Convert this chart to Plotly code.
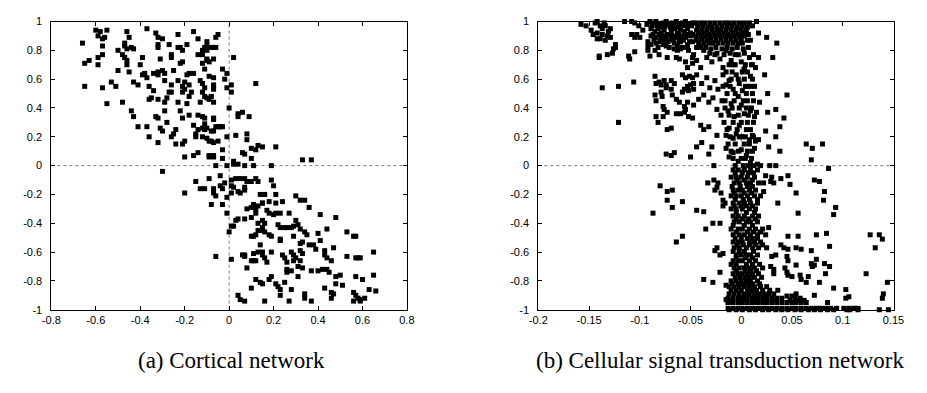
import plotly.graph_objects as go

# ---------------- (a) Cortical network: points above y = 0 ----------------
cortical_upper = [
    (-0.66, 0.85), (-0.65, 0.71), (-0.63, 0.73), (-0.65, 0.55), (-0.60, 0.94), (-0.58, 0.93),
    (-0.55, 0.94), (-0.59, 0.90), (-0.57, 0.88), (-0.56, 0.89), (-0.57, 0.83), (-0.57, 0.77),
    (-0.59, 0.75), (-0.59, 0.70), (-0.57, 0.54), (-0.55, 0.43), (-0.53, 0.58), (-0.51, 0.55),
    (-0.50, 0.80), (-0.48, 0.77), (-0.47, 0.83), (-0.47, 0.85), (-0.46, 0.81), (-0.48, 0.44),
    (-0.46, 0.93), (-0.45, 0.89), (-0.47, 0.75), (-0.46, 0.70), (-0.46, 0.73), (-0.50, 0.66),
    (-0.45, 0.65), (-0.44, 0.38), (-0.43, 0.34), (-0.41, 0.27), (-0.43, 0.58), (-0.41, 0.56),
    (-0.44, 0.82), (-0.43, 0.81), (-0.39, 0.75), (-0.40, 0.70), (-0.38, 0.64), (-0.37, 0.61),
    (-0.39, 0.63), (-0.37, 0.95), (-0.33, 0.92), (-0.32, 0.89), (-0.30, 0.88), (-0.27, 0.84),
    (-0.26, 0.77), (-0.26, 0.75), (-0.36, 0.55), (-0.36, 0.46), (-0.35, 0.47), (-0.32, 0.46),
    (-0.37, 0.27), (-0.36, 0.20), (-0.32, 0.84), (-0.32, 0.82), (-0.31, 0.74), (-0.34, 0.64),
    (-0.32, 0.63), (-0.32, 0.65), (-0.30, 0.66), (-0.29, 0.64), (-0.29, 0.59), (-0.34, 0.52),
    (-0.33, 0.34), (-0.32, 0.33), (-0.31, 0.26), (-0.30, 0.24), (-0.32, 0.16), (-0.28, 0.47),
    (-0.27, 0.51), (-0.26, 0.51), (-0.26, 0.56), (-0.29, 0.44), (-0.29, 0.38), (-0.28, 0.30),
    (-0.26, 0.20), (-0.25, 0.22), (-0.24, 0.25), (-0.23, 0.91), (-0.23, 0.82), (-0.22, 0.82),
    (-0.21, 0.80), (-0.19, 0.84), (-0.22, 0.71), (-0.21, 0.72), (-0.25, 0.66), (-0.23, 0.59),
    (-0.21, 0.55), (-0.20, 0.53), (-0.21, 0.51), (-0.18, 0.56), (-0.17, 0.51), (-0.23, 0.44),
    (-0.22, 0.38), (-0.21, 0.33), (-0.20, 0.58), (-0.19, 0.63), (-0.18, 0.64), (-0.16, 0.64),
    (-0.24, 0.15), (-0.21, 0.15), (-0.20, 0.17), (-0.20, 0.06), (-0.16, 0.07), (-0.14, 0.09),
    (-0.18, 0.48), (-0.19, 0.43), (-0.18, 0.35), (-0.16, 0.28), (-0.15, 0.22), (-0.15, 0.20),
    (-0.16, 0.93), (-0.14, 0.88), (-0.12, 0.80), (-0.11, 0.82), (-0.10, 0.86), (-0.10, 0.83),
    (-0.14, 0.77), (-0.12, 0.77), (-0.12, 0.71), (-0.11, 0.67), (-0.10, 0.73), (-0.13, 0.59),
    (-0.12, 0.57), (-0.11, 0.54), (-0.09, 0.62), (-0.07, 0.61), (-0.07, 0.55), (-0.13, 0.44),
    (-0.12, 0.51), (-0.11, 0.48), (-0.10, 0.47), (-0.14, 0.35), (-0.12, 0.34), (-0.11, 0.33),
    (-0.11, 0.29), (-0.14, 0.25), (-0.12, 0.26), (-0.11, 0.25), (-0.10, 0.26), (-0.08, 0.24),
    (-0.12, 0.20), (-0.10, 0.19), (-0.09, 0.17), (-0.07, 0.16), (-0.05, 0.17), (-0.09, 0.07),
    (-0.07, 0.07), (-0.08, 0.48), (-0.07, 0.44), (-0.07, 0.33), (-0.05, 0.27), (-0.08, 0.82),
    (-0.06, 0.89), (-0.05, 0.91), (-0.07, 0.74), (-0.06, 0.00), (-0.10, 0.80), (-0.10, 0.74),
    (-0.09, 0.72), (-0.07, 0.82), (-0.06, 0.82), (-0.07, 0.56), (-0.07, 0.53), (-0.09, 0.46),
    (-0.07, 0.32), (-0.06, 0.27), (-0.07, 0.24), (-0.08, 0.17), (-0.09, 0.06), (-0.07, 0.06),
]
cortical_upper_right = [
    (0.02, 0.75), (-0.03, 0.67), (-0.01, 0.64), (-0.02, 0.60), (0.01, 0.56), (0.12, 0.57),
    (-0.01, 0.54), (0.01, 0.51), (0.00, 0.40), (0.04, 0.36), (0.04, 0.34), (0.06, 0.37),
    (0.09, 0.34), (-0.04, 0.27), (0.03, 0.21), (0.08, 0.22), (0.08, 0.18), (-0.01, 0.20),
    (-0.03, 0.11), (0.10, 0.12), (0.12, 0.11), (0.13, 0.14), (0.15, 0.13), (0.21, 0.13),
    (0.06, 0.09), (0.07, 0.08), (-0.03, 0.05), (0.10, 0.05), (0.33, 0.04), (0.37, 0.04),
    (0.02, 0.03), (0.02, 0.01), (0.04, 0.01), (0.07, 0.00), (0.11, 0.00), (0.19, 0.00),
    (-0.01, 0.00), (-0.04, 0.27), (-0.03, 0.27),
]

# ---------------- (a) Cortical network: points below y = 0 ----------------
cortical_lower_left = [
    (-0.30, -0.04), (-0.20, -0.19), (-0.15, -0.11), (-0.13, -0.16), (-0.11, -0.16), (-0.09, -0.09),
    (-0.08, -0.27), (-0.07, -0.19), (-0.07, -0.16), (-0.06, -0.21), (-0.06, -0.63), (-0.04, -0.07),
    (-0.04, -0.14), (-0.03, -0.16), (-0.02, -0.12), (-0.03, -0.27), (-0.01, -0.22), (-0.01, -0.33),
    (0.00, -0.46), (0.01, -0.42), (0.01, -0.65), (0.01, -0.10), (0.01, -0.14), (0.01, -0.19),
]
cortical_lower_right = [
    (0.03, -0.09), (0.05, -0.09), (0.07, -0.09), (0.08, -0.11), (0.10, -0.11), (0.12, -0.09),
    (0.13, -0.11), (0.02, -0.15), (0.04, -0.18), (0.05, -0.19), (0.07, -0.17), (0.07, -0.15),
    (0.19, -0.10), (0.20, -0.14), (0.14, -0.20), (0.16, -0.20), (0.15, -0.26), (0.18, -0.25),
    (0.21, -0.20), (0.21, -0.26), (0.24, -0.25), (0.15, -0.26), (0.30, -0.21), (0.32, -0.24),
    (0.34, -0.24), (0.36, -0.29), (0.08, -0.30), (0.10, -0.29), (0.11, -0.27), (0.12, -0.30),
    (0.12, -0.33), (0.13, -0.28), (0.17, -0.31), (0.18, -0.33), (0.20, -0.34), (0.21, -0.33),
    (0.23, -0.33), (0.27, -0.33), (0.41, -0.34), (0.48, -0.36), (0.03, -0.38), (0.02, -0.42),
    (0.04, -0.37), (0.07, -0.37), (0.10, -0.36), (0.13, -0.40), (0.15, -0.43), (0.16, -0.40),
    (0.15, -0.38), (0.22, -0.41), (0.23, -0.43), (0.25, -0.43), (0.26, -0.43), (0.28, -0.43),
    (0.29, -0.42), (0.31, -0.41), (0.30, -0.38), (0.32, -0.44), (0.10, -0.49), (0.11, -0.49),
    (0.12, -0.48), (0.13, -0.45), (0.15, -0.45), (0.16, -0.46), (0.18, -0.48), (0.19, -0.49),
    (0.23, -0.51), (0.23, -0.52), (0.29, -0.49), (0.34, -0.46), (0.35, -0.48), (0.40, -0.47),
    (0.44, -0.44), (0.53, -0.46), (0.56, -0.49), (0.57, -0.49), (0.32, -0.54), (0.33, -0.53),
    (0.36, -0.55), (0.38, -0.55), (0.39, -0.58), (0.41, -0.52), (0.14, -0.55), (0.15, -0.60),
    (0.15, -0.62), (0.06, -0.62), (0.07, -0.62), (0.07, -0.63), (0.11, -0.61), (0.13, -0.60),
    (0.19, -0.60), (0.10, -0.66), (0.11, -0.66), (0.12, -0.66), (0.16, -0.64), (0.17, -0.67),
    (0.08, -0.71), (0.24, -0.62), (0.25, -0.64), (0.26, -0.67), (0.28, -0.60), (0.29, -0.62),
    (0.29, -0.66), (0.30, -0.64), (0.32, -0.59), (0.33, -0.61), (0.32, -0.66), (0.31, -0.70),
    (0.33, -0.71), (0.26, -0.72), (0.26, -0.74), (0.28, -0.73), (0.37, -0.73), (0.40, -0.73),
    (0.42, -0.72), (0.44, -0.72), (0.45, -0.74), (0.43, -0.59), (0.43, -0.62), (0.44, -0.64),
    (0.46, -0.66), (0.47, -0.57), (0.53, -0.63), (0.57, -0.64), (0.58, -0.64), (0.59, -0.64),
    (0.65, -0.60), (0.19, -0.77), (0.18, -0.79), (0.12, -0.79), (0.14, -0.81), (0.15, -0.82),
    (0.21, -0.82), (0.22, -0.84), (0.23, -0.86), (0.23, -0.90), (0.25, -0.81), (0.31, -0.77),
    (0.34, -0.89), (0.34, -0.92), (0.10, -0.85), (0.04, -0.90), (0.05, -0.93), (0.07, -0.94),
    (0.16, -0.94), (0.27, -0.94), (0.28, -0.86), (0.37, -0.94), (0.43, -0.85), (0.46, -0.88),
    (0.46, -0.92), (0.47, -0.89), (0.48, -0.82), (0.48, -0.77), (0.50, -0.76), (0.51, -0.83),
    (0.57, -0.77), (0.60, -0.79), (0.65, -0.76), (0.56, -0.88), (0.57, -0.90), (0.58, -0.92),
    (0.59, -0.93), (0.59, -0.94), (0.61, -0.92), (0.56, -0.94), (0.63, -0.86), (0.66, -0.87),
]

# ---------------- (b) Cellular signal transduction network ----------------
signal_top_left = [
    (-0.158, 0.98), (-0.153, 0.97), (-0.148, 0.94), (-0.146, 0.91), (-0.144, 0.99), (-0.142, 1.00),
    (-0.139, 0.97), (-0.137, 0.95), (-0.135, 0.99), (-0.134, 0.97), (-0.131, 0.93), (-0.129, 0.95),
    (-0.132, 0.90), (-0.142, 0.88), (-0.139, 0.88), (-0.134, 0.87), (-0.129, 0.89), (-0.142, 0.92),
    (-0.137, 0.91), (-0.124, 0.84), (-0.126, 0.81), (-0.140, 0.76), (-0.140, 0.75), (-0.132, 0.77),
    (-0.127, 0.78), (-0.124, 0.82), (-0.115, 1.00), (-0.108, 1.00), (-0.105, 0.99), (-0.101, 0.97),
    (-0.103, 0.91), (-0.100, 0.89), (-0.097, 0.94), (-0.093, 0.98), (-0.108, 0.91), (-0.105, 0.89),
    (-0.111, 0.76), (-0.110, 0.74), (-0.105, 0.79), (-0.092, 0.80), (-0.090, 0.76),
]
signal_top_band = [
    (-0.090, 1.00), (-0.087, 0.99), (-0.084, 1.00), (-0.081, 0.98), (-0.077, 0.99), (-0.074, 1.00),
    (-0.071, 0.98), (-0.068, 0.99), (-0.064, 1.00), (-0.061, 0.98), (-0.058, 0.99), (-0.055, 1.00),
    (-0.052, 0.98), (-0.048, 0.99), (-0.089, 0.95), (-0.085, 0.93), (-0.082, 0.95), (-0.079, 0.92),
    (-0.076, 0.94), (-0.073, 0.91), (-0.069, 0.93), (-0.066, 0.95), (-0.063, 0.92), (-0.060, 0.94),
    (-0.056, 0.93), (-0.053, 0.95), (-0.050, 0.92), (-0.089, 0.90), (-0.084, 0.89), (-0.079, 0.88),
    (-0.074, 0.89), (-0.069, 0.88), (-0.064, 0.89), (-0.060, 0.88), (-0.055, 0.89), (-0.050, 0.90),
    (-0.092, 0.86), (-0.092, 0.83), (-0.089, 0.84), (-0.084, 0.85), (-0.082, 0.82), (-0.085, 0.80),
    (-0.081, 0.77), (-0.077, 0.84), (-0.074, 0.83), (-0.071, 0.82), (-0.066, 0.85), (-0.063, 0.83),
    (-0.060, 0.86), (-0.058, 0.82), (-0.053, 0.84), (-0.048, 0.86), (-0.052, 0.80), (-0.066, 0.81),
    (-0.063, 0.80), (-0.060, 0.81), (-0.053, 0.82), (-0.073, 0.75), (-0.064, 0.75), (-0.061, 0.74),
    (-0.048, 0.75), (-0.044, 0.82),
    (-0.088, 0.97), (-0.083, 0.97), (-0.079, 0.96), (-0.075, 0.97), (-0.070, 0.96), (-0.066, 0.97),
    (-0.062, 0.96), (-0.057, 0.97), (-0.053, 0.96), (-0.049, 0.97),
    (-0.087, 0.91), (-0.081, 0.91), (-0.077, 0.90), (-0.071, 0.91), (-0.067, 0.90), (-0.062, 0.91),
    (-0.058, 0.90), (-0.054, 0.91), (-0.048, 0.91),
    (-0.086, 0.87), (-0.080, 0.86), (-0.076, 0.87), (-0.072, 0.86), (-0.067, 0.87), (-0.061, 0.86),
    (-0.057, 0.87), (-0.051, 0.86),
    (-0.045, 0.99), (-0.040, 0.99), (-0.036, 0.99), (-0.031, 0.99), (-0.026, 0.99), (-0.021, 0.99),
    (-0.016, 0.99), (-0.012, 0.99), (-0.007, 0.99), (-0.002, 0.99), (0.003, 0.99), (0.008, 0.99),
    (-0.044, 0.94), (-0.039, 0.94), (-0.034, 0.94), (-0.029, 0.94), (-0.024, 0.94), (-0.020, 0.94),
    (-0.015, 0.94), (-0.010, 0.94), (-0.005, 0.94), (0.000, 0.94), (0.005, 0.94),
    (-0.045, 0.90), (-0.040, 0.90), (-0.036, 0.90), (-0.031, 0.90), (-0.026, 0.90), (-0.021, 0.90),
    (-0.016, 0.90), (-0.012, 0.90), (-0.007, 0.90), (-0.002, 0.90), (0.003, 0.90),
    (-0.042, 0.85), (-0.037, 0.85), (-0.032, 0.85), (-0.028, 0.85), (-0.023, 0.85), (-0.018, 0.85),
    (-0.013, 0.85), (-0.008, 0.85), (-0.003, 0.85), (0.001, 0.85),
    (-0.043, 0.97), (-0.038, 0.97), (-0.033, 0.96), (-0.029, 0.97), (-0.024, 0.96), (-0.019, 0.97),
    (-0.014, 0.96), (-0.009, 0.97), (-0.004, 0.96), (0.001, 0.97), (0.006, 0.96), (0.011, 0.97),
    (-0.042, 0.92), (-0.037, 0.92), (-0.032, 0.91), (-0.027, 0.92), (-0.022, 0.91), (-0.017, 0.92),
    (-0.013, 0.91), (-0.008, 0.92), (-0.003, 0.91), (0.002, 0.92), (0.007, 0.91),
    (-0.044, 0.87), (-0.039, 0.88), (-0.034, 0.87), (-0.030, 0.88), (-0.025, 0.87), (-0.020, 0.88),
    (-0.015, 0.87), (-0.010, 0.88), (-0.005, 0.87), (0.000, 0.88), (0.006, 0.87),
    (-0.040, 0.82), (-0.035, 0.82), (-0.030, 0.81), (-0.025, 0.82), (-0.019, 0.81), (-0.014, 0.82),
    (-0.009, 0.81), (-0.004, 0.82), (0.002, 0.81), (0.007, 0.82),
    (-0.031, 0.78), (-0.024, 0.78), (-0.017, 0.77), (-0.011, 0.78), (-0.006, 0.77), (0.003, 0.78),
    (0.012, 0.77),
    (0.015, 1.00), (0.017, 0.92), (0.025, 0.89), (0.035, 0.85), (0.009, 0.87),
]
signal_mid_upper = [
    (-0.137, 0.54), (-0.121, 0.55), (-0.106, 0.58), (-0.121, 0.30),
    (-0.085, 0.62), (-0.084, 0.57), (-0.081, 0.58), (-0.079, 0.56), (-0.076, 0.59), (-0.074, 0.56),
    (-0.069, 0.59), (-0.066, 0.57), (-0.058, 0.63), (-0.055, 0.61), (-0.051, 0.62), (-0.048, 0.61),
    (-0.053, 0.55), (-0.050, 0.56), (-0.047, 0.57), (-0.085, 0.49), (-0.084, 0.45), (-0.079, 0.51),
    (-0.078, 0.48), (-0.074, 0.54), (-0.069, 0.53), (-0.068, 0.49), (-0.064, 0.46), (-0.061, 0.44),
    (-0.058, 0.51), (-0.056, 0.53), (-0.052, 0.52), (-0.047, 0.53), (-0.055, 0.72), (-0.053, 0.68),
    (-0.048, 0.71), (-0.084, 0.34), (-0.077, 0.34), (-0.076, 0.39), (-0.073, 0.37), (-0.073, 0.25),
    (-0.069, 0.26), (-0.077, 0.41), (-0.064, 0.36), (-0.060, 0.36), (-0.056, 0.37), (-0.052, 0.34),
    (-0.048, 0.33), (-0.047, 0.42), (-0.053, 0.44), (-0.055, 0.39), (-0.056, 0.41), (-0.082, 0.30),
    (-0.074, 0.08), (-0.069, 0.07), (-0.066, 0.09), (-0.050, 0.06),
    (-0.047, 0.77), (-0.044, 0.73), (-0.040, 0.68), (-0.037, 0.80), (-0.034, 0.75), (-0.029, 0.72),
    (-0.026, 0.77), (-0.021, 0.74), (-0.018, 0.68), (-0.015, 0.80), (-0.010, 0.73), (-0.008, 0.70),
    (-0.003, 0.77), (0.000, 0.72), (0.003, 0.67), (0.008, 0.75), (0.011, 0.70), (0.014, 0.68),
    (0.017, 0.75), (0.031, 0.75), (0.023, 0.63),
    (-0.044, 0.63), (-0.039, 0.57), (-0.034, 0.61), (-0.031, 0.54), (-0.026, 0.59), (-0.023, 0.53),
    (-0.018, 0.63), (-0.015, 0.56), (-0.012, 0.59), (-0.008, 0.53), (-0.005, 0.63), (-0.002, 0.57),
    (0.001, 0.52), (0.006, 0.55), (0.009, 0.62), (0.013, 0.55), (0.026, 0.50), (0.045, 0.49),
    (-0.042, 0.46), (-0.037, 0.49), (-0.032, 0.44), (-0.028, 0.47), (-0.024, 0.39), (-0.020, 0.35),
    (-0.016, 0.45), (-0.013, 0.38), (-0.010, 0.43), (-0.007, 0.34), (-0.003, 0.48), (0.000, 0.42),
    (0.003, 0.36), (0.006, 0.45), (0.009, 0.38), (0.013, 0.34), (0.018, 0.44), (0.026, 0.37),
    (0.034, 0.39), (0.042, 0.33), (0.015, 0.37),
    (-0.040, 0.28), (-0.037, 0.25), (-0.032, 0.27), (-0.024, 0.21), (-0.015, 0.21), (-0.012, 0.26),
    (-0.008, 0.19), (-0.005, 0.22), (-0.002, 0.28), (0.001, 0.20), (0.005, 0.25), (0.008, 0.18),
    (0.011, 0.21), (0.014, 0.17), (0.017, 0.18), (0.024, 0.24), (0.034, 0.20), (0.038, 0.27),
    (-0.044, 0.13), (-0.039, 0.16), (-0.032, 0.08), (-0.029, 0.13), (-0.015, 0.12), (-0.012, 0.06),
    (-0.008, 0.09), (-0.003, 0.03), (0.000, 0.11), (0.005, 0.07), (0.009, 0.02), (0.013, 0.12),
    (0.016, 0.01), (0.019, 0.00), (0.027, 0.13), (0.038, 0.10), (0.028, 0.00), (0.034, 0.00),
    (0.064, 0.15), (0.070, 0.12), (0.080, 0.15), (0.069, 0.04), (-0.027, 0.00),
]
signal_column_upper = [
    (-0.012, 0.70), (-0.006, 0.70), (0.004, 0.70), (0.010, 0.70),
    (-0.015, 0.65), (-0.009, 0.65), (0.001, 0.65), (0.006, 0.65),
    (-0.010, 0.60), (-0.003, 0.60), (0.003, 0.60), (0.011, 0.60),
    (-0.018, 0.55), (-0.011, 0.55), (0.004, 0.55), (0.009, 0.55),
    (-0.014, 0.50), (-0.006, 0.50), (0.005, 0.50), (0.011, 0.50),
    (-0.019, 0.45), (-0.007, 0.45), (0.002, 0.45), (0.012, 0.45),
    (-0.016, 0.40), (-0.009, 0.40), (-0.002, 0.40), (0.005, 0.40), (0.010, 0.40),
    (-0.012, 0.35), (-0.003, 0.35), (0.007, 0.35),
    (-0.017, 0.30), (-0.008, 0.30), (0.000, 0.30), (0.006, 0.30), (0.012, 0.30),
    (-0.014, 0.25), (-0.004, 0.25), (0.009, 0.25),
    (-0.011, 0.20), (-0.002, 0.20), (0.004, 0.20), (0.012, 0.20),
    (-0.013, 0.15), (-0.006, 0.15), (0.003, 0.15), (0.008, 0.15),
    (-0.010, 0.10), (-0.003, 0.10), (0.006, 0.10), (0.011, 0.10),
    (-0.008, 0.05), (0.000, 0.05), (0.004, 0.05), (0.010, 0.05),
    (-0.006, 0.00), (0.002, 0.00), (0.007, 0.00), (0.012, 0.00),
]
signal_mid_lower = [
    (-0.080, -0.14), (-0.073, -0.18), (-0.068, -0.17), (-0.073, -0.24), (-0.068, -0.29), (-0.058, -0.25),
    (-0.087, -0.33), (-0.044, -0.31), (-0.064, -0.53), (-0.058, -0.49),
    (-0.037, -0.32), (-0.035, -0.44), (-0.033, -0.12), (-0.027, -0.10), (-0.024, -0.15), (-0.026, -0.17),
    (-0.023, -0.12), (-0.020, -0.19), (-0.018, -0.24), (-0.016, -0.26), (-0.018, -0.28), (-0.028, -0.40),
    (-0.021, -0.40), (-0.026, -0.59), (-0.024, -0.57), (-0.021, -0.62), (-0.018, -0.61), (-0.021, -0.74),
    (-0.037, -0.79), (-0.028, -0.81), (-0.015, -0.83), (-0.015, -0.93), (-0.013, -0.95),
    (0.086, -0.02), (0.072, -0.10), (0.077, -0.11), (0.082, -0.18), (0.081, -0.24), (0.093, -0.29),
    (0.091, -0.34), (0.056, -0.33), (0.054, -0.19), (0.046, -0.07), (0.048, -0.13), (0.039, -0.09),
    (0.030, -0.08), (0.032, -0.12), (0.029, -0.11), (0.024, -0.07), (0.022, -0.12), (0.022, -0.18),
    (0.036, -0.26), (0.027, -0.43), (0.046, -0.49), (0.056, -0.49), (0.074, -0.48), (0.084, -0.47),
    (0.087, -0.56), (0.127, -0.48), (0.136, -0.48), (0.139, -0.51), (0.132, -0.57), (0.039, -0.55),
    (0.042, -0.57), (0.046, -0.58), (0.054, -0.57), (0.059, -0.58), (0.069, -0.59), (0.074, -0.65),
    (0.030, -0.63), (0.034, -0.62), (0.045, -0.63), (0.046, -0.66), (0.054, -0.69), (0.069, -0.68),
    (0.070, -0.70), (0.072, -0.69), (0.082, -0.68), (0.087, -0.70), (0.083, -0.75), (0.029, -0.70),
    (0.032, -0.72), (0.032, -0.75), (0.043, -0.71), (0.045, -0.74), (0.046, -0.76), (0.050, -0.77),
    (0.058, -0.76), (0.059, -0.79), (0.064, -0.81), (0.066, -0.77), (0.077, -0.81), (0.091, -0.85),
    (0.123, -0.75), (0.144, -0.81), (0.103, -0.86), (0.106, -0.91), (0.103, -0.92), (0.072, -0.90),
    (0.140, -0.89), (0.139, -0.92),
]
signal_column = [
    (-0.008, -0.03), (-0.003, -0.03), (0.003, -0.03), (0.009, -0.03), (0.016, -0.03),
    (-0.006, -0.05), (0.001, -0.05), (0.007, -0.05), (0.012, -0.05),
    (-0.010, -0.08), (-0.005, -0.08), (0.000, -0.08), (0.006, -0.08), (0.013, -0.08),
    (-0.004, -0.10), (0.003, -0.10), (0.011, -0.10),
    (-0.007, -0.12), (-0.002, -0.12), (0.005, -0.12), (0.009, -0.12), (0.017, -0.12),
    (-0.009, -0.145), (-0.001, -0.145), (0.006, -0.145), (0.011, -0.145),
    (-0.008, -0.17), (-0.003, -0.17), (0.001, -0.17), (0.008, -0.17), (0.014, -0.17),
    (-0.007, -0.19), (0.003, -0.19), (0.010, -0.19),
    (-0.010, -0.21), (-0.005, -0.21), (0.000, -0.21), (0.006, -0.21), (0.013, -0.21), (0.019, -0.21),
    (-0.006, -0.235), (0.002, -0.235), (0.008, -0.235), (0.016, -0.235),
    (-0.008, -0.26), (-0.002, -0.26), (0.003, -0.26), (0.009, -0.26), (0.016, -0.26),
    (-0.007, -0.28), (0.000, -0.28), (0.005, -0.28), (0.011, -0.28),
    (-0.010, -0.30), (-0.005, -0.30), (0.001, -0.30), (0.008, -0.30), (0.014, -0.30),
    (-0.005, -0.325), (0.005, -0.325), (0.013, -0.325),
    (-0.008, -0.35), (-0.003, -0.35), (0.003, -0.35), (0.011, -0.35), (0.017, -0.35),
    (-0.005, -0.37), (0.001, -0.37), (0.007, -0.37), (0.014, -0.37),
    (-0.007, -0.39), (-0.002, -0.39), (0.005, -0.39), (0.009, -0.39), (0.016, -0.39),
    (-0.008, -0.415), (0.003, -0.415), (0.011, -0.415),
    (-0.010, -0.44), (-0.003, -0.44), (0.001, -0.44), (0.008, -0.44), (0.014, -0.44), (0.021, -0.44),
    (-0.005, -0.46), (0.006, -0.46), (0.012, -0.46), (0.019, -0.46),
    (-0.008, -0.48), (-0.002, -0.48), (0.003, -0.48), (0.009, -0.48), (0.016, -0.48), (0.024, -0.48),
    (-0.006, -0.505), (0.000, -0.505), (0.006, -0.505), (0.011, -0.505), (0.016, -0.505),
    (-0.008, -0.53), (-0.003, -0.53), (0.001, -0.53), (0.008, -0.53), (0.013, -0.53), (0.019, -0.53),
    (-0.004, -0.55), (0.002, -0.55), (0.008, -0.55), (0.014, -0.55), (0.021, -0.55),
    (-0.007, -0.57), (-0.002, -0.57), (0.005, -0.57), (0.011, -0.57), (0.017, -0.57), (0.025, -0.57),
    (-0.008, -0.595), (-0.002, -0.595), (0.003, -0.595), (0.012, -0.595),
    (-0.005, -0.62), (0.000, -0.62), (0.005, -0.62), (0.009, -0.62), (0.016, -0.62),
    (-0.005, -0.64), (0.004, -0.64), (0.011, -0.64),
    (-0.008, -0.66), (-0.003, -0.66), (0.001, -0.66), (0.008, -0.66), (0.014, -0.66),
    (-0.010, -0.685), (-0.005, -0.685), (0.005, -0.685), (0.011, -0.685), (0.018, -0.685),
    (-0.007, -0.71), (-0.002, -0.71), (0.003, -0.71), (0.008, -0.71), (0.013, -0.71), (0.021, -0.71),
    (-0.005, -0.73), (0.004, -0.73), (0.009, -0.73), (0.015, -0.73),
    (-0.008, -0.75), (-0.003, -0.75), (0.001, -0.75), (0.006, -0.75), (0.011, -0.75), (0.017, -0.75),
    (-0.006, -0.775), (-0.001, -0.775), (0.004, -0.775), (0.008, -0.775), (0.013, -0.775), (0.020, -0.775),
    (-0.010, -0.80), (-0.005, -0.80), (0.000, -0.80), (0.005, -0.80), (0.009, -0.80), (0.016, -0.80),
    (-0.009, -0.82), (-0.003, -0.82), (0.002, -0.82), (0.007, -0.82), (0.011, -0.82), (0.018, -0.82),
    (-0.012, -0.84), (-0.007, -0.84), (-0.002, -0.84), (0.003, -0.84), (0.008, -0.84), (0.013, -0.84),
    (0.019, -0.84), (0.025, -0.84),
    (-0.010, -0.865), (-0.005, -0.865), (0.000, -0.865), (0.006, -0.865), (0.010, -0.865),
    (0.015, -0.865), (0.021, -0.865), (0.028, -0.865), (0.036, -0.865),
]
signal_bottom = [
    (-0.012, -0.89), (-0.007, -0.89), (-0.002, -0.89), (0.003, -0.89), (0.008, -0.89), (0.013, -0.89),
    (0.017, -0.89), (0.022, -0.89), (0.027, -0.89), (0.032, -0.89), (0.054, -0.89),
    (0.005, -0.905), (0.015, -0.905), (0.025, -0.905), (0.045, -0.905), (0.050, -0.905),
    (-0.013, -0.92), (-0.008, -0.92), (-0.003, -0.92), (0.001, -0.92), (0.006, -0.92), (0.011, -0.92),
    (0.016, -0.92), (0.021, -0.92), (0.025, -0.92), (0.030, -0.92), (0.035, -0.92), (0.040, -0.92),
    (0.053, -0.92), (0.058, -0.92),
    (-0.011, -0.935), (0.004, -0.935), (0.014, -0.935), (0.024, -0.935), (0.033, -0.935),
    (0.048, -0.935), (0.056, -0.935), (0.062, -0.935),
    (-0.013, -0.95), (-0.008, -0.95), (-0.003, -0.95), (0.001, -0.95), (0.006, -0.95), (0.011, -0.95),
    (0.016, -0.95), (0.021, -0.95), (0.025, -0.95), (0.030, -0.95), (0.035, -0.95), (0.040, -0.95),
    (0.045, -0.95), (0.050, -0.95), (0.054, -0.95), (0.059, -0.95), (0.064, -0.95), (0.085, -0.95),
    (-0.013, -0.99), (-0.008, -0.99), (-0.003, -0.99), (0.001, -0.99), (0.006, -0.99), (0.011, -0.99),
    (0.016, -0.99), (0.021, -0.99), (0.025, -0.99), (0.030, -0.99), (0.035, -0.99), (0.040, -0.99),
    (0.045, -0.99), (0.050, -0.99), (0.054, -0.99), (0.059, -0.99), (0.064, -0.99), (0.069, -0.99),
    (0.074, -0.99), (0.078, -0.99), (0.083, -0.99), (0.088, -0.99), (0.094, -0.99), (0.101, -0.99),
    (0.106, -0.99), (0.111, -0.99), (0.115, -0.99),
    (-0.012, -1.00), (-0.005, -1.00), (0.001, -1.00), (0.008, -1.00), (0.014, -1.00), (0.021, -1.00),
    (0.027, -1.00), (0.034, -1.00), (0.040, -1.00), (0.046, -1.00), (0.053, -1.00), (0.059, -1.00),
    (0.066, -1.00), (0.072, -1.00), (0.078, -1.00), (0.085, -1.00), (0.091, -1.00), (0.104, -1.00),
    (0.107, -1.00), (0.115, -1.00), (0.136, -1.00), (0.145, -1.00),
]

# Tick positions and labels
cortical_xticks = [-0.8, -0.6, -0.4, -0.2, 0, 0.2, 0.4, 0.6, 0.8]
cortical_xlabels = ["-0.8", "-0.6", "-0.4", "-0.2", "0", "0.2", "0.4", "0.6", "0.8"]
signal_xticks = [-0.2, -0.15, -0.1, -0.05, 0, 0.05, 0.1, 0.15]
signal_xlabels = ["-0.2", "-0.15", "-0.1", "-0.05", "0", "0.05", "0.1", "0.15"]
yticks = [-1, -0.8, -0.6, -0.4, -0.2, 0, 0.2, 0.4, 0.6, 0.8, 1]
ylabels = ["-1", "-0.8", "-0.6", "-0.4", "-0.2", "0", "0.2", "0.4", "0.6", "0.8", "1"]

captions = ["(a) Cortical network", "(b) Cellular signal transduction network"]
caption_centers = [0.2454, 0.7837]

cortical = cortical_upper + cortical_upper_right + cortical_lower_left + cortical_lower_right
signal = (signal_top_left + signal_top_band + signal_mid_upper + signal_column_upper
          + signal_mid_lower + signal_column + signal_bottom)

marker = dict(symbol="square", size=5, color="black", line=dict(width=0))

fig = go.Figure()
fig.add_trace(go.Scatter(x=[p[0] for p in cortical], y=[p[1] for p in cortical],
                         mode="markers", marker=marker, xaxis="x", yaxis="y",
                         cliponaxis=False, showlegend=False, hoverinfo="skip"))
fig.add_trace(go.Scatter(x=[p[0] for p in signal], y=[p[1] for p in signal],
                         mode="markers", marker=marker, xaxis="x2", yaxis="y2",
                         cliponaxis=False, showlegend=False, hoverinfo="skip"))

tick_font = dict(family="Liberation Sans, Arial, sans-serif", size=11, color="black")
common = dict(showline=True, linecolor="black", linewidth=1, mirror="ticks",
              ticks="inside", ticklen=4, tickcolor="black", tickwidth=1,
              showgrid=False, zeroline=False, tickfont=tick_font)

ydom = [0.2028, 0.9593]
fig.update_layout(
    width=927, height=393,
    margin=dict(l=0, r=0, t=0, b=0),
    paper_bgcolor="white", plot_bgcolor="white",
    xaxis=dict(domain=[0.0467, 0.4387], range=[-0.8, 0.8], tickvals=cortical_xticks,
               ticktext=cortical_xlabels, anchor="y", **common),
    yaxis=dict(domain=ydom, range=[-1, 1], tickvals=yticks, ticktext=ylabels,
               anchor="x", ticklabelstandoff=6, **common),
    xaxis2=dict(domain=[0.5836, 0.9752], range=[-0.2, 0.15], tickvals=signal_xticks,
                ticktext=signal_xlabels, anchor="y2", **common),
    yaxis2=dict(domain=ydom, range=[-1, 1], tickvals=yticks, ticktext=ylabels,
                anchor="x2", ticklabelstandoff=6, **common),
)

# dotted zero axes
dot = dict(color="#7a7a7a", width=1, dash="dot")
for xa, ya in (("x", "y"), ("x2", "y2")):
    fig.add_shape(type="line", xref=f"{xa} domain", yref=ya, x0=0, x1=1, y0=0, y1=0,
                  line=dot, layer="below")
    fig.add_shape(type="line", xref=xa, yref=f"{ya} domain", x0=0, x1=0, y0=0, y1=1,
                  line=dot, layer="below")

cap_font = dict(family="Liberation Serif, DejaVu Serif, serif", size=23, color="black")
for text, xc in zip(captions, caption_centers):
    fig.add_annotation(text=text, xref="paper", yref="paper", x=xc, y=0.069,
                       showarrow=False, font=cap_font, xanchor="center", yanchor="middle")

fig.write_html("out.html")
